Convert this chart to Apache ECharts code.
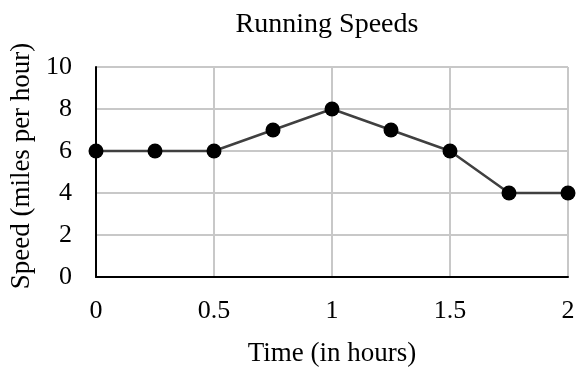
<!DOCTYPE html>
<html>
<head>
<meta charset="utf-8">
<script src="https://cdn.jsdelivr.net/npm/echarts@6/dist/echarts.min.js"></script>
<style>
  html, body { margin: 0; padding: 0; background: #fff; }
  #chart { width: 577px; height: 371px; }
</style>
</head>
<body>
<div id="chart"></div>
<script>
// Running speed samples, every quarter hour
const timeHours = [0, 0.25, 0.5, 0.75, 1, 1.25, 1.5, 1.75, 2];
const speedMph = [6, 6, 6, 7, 8, 7, 6, 4, 4];

const chartTitle = 'Running Speeds';
const xAxisName = 'Time (in hours)';
const yAxisName = 'Speed (miles per hour)';

const serif = '"Liberation Serif", "Times New Roman", serif';
const points = timeHours.map((t, i) => [t, speedMph[i]]);

const chart = echarts.init(document.getElementById('chart'), null, { renderer: 'canvas' });
chart.setOption({
  animation: false,
  backgroundColor: '#ffffff',
  textStyle: { fontFamily: serif },
  title: {
    text: chartTitle,
    left: 322,
    top: 6,
    textAlign: 'center',
    textStyle: { fontFamily: serif, fontSize: 28, fontWeight: 'normal', color: '#000' }
  },
  grid: {
    left: 96, right: 9, top: 67, bottom: 94,
    containLabel: false,
    outerBoundsMode: 'none'
  },
  xAxis: {
    type: 'value',
    min: 0,
    max: 2,
    interval: 0.5,
    name: xAxisName,
    nameLocation: 'middle',
    nameGap: 63,
    nameTextStyle: { fontFamily: serif, fontSize: 27, color: '#000' },
    axisLine: { show: true, lineStyle: { color: '#000', width: 2 } },
    axisTick: { show: false },
    axisLabel: { fontFamily: serif, fontSize: 26, color: '#000', margin: 21 },
    splitLine: { show: true, lineStyle: { color: '#c8c8c8', width: 2 } }
  },
  yAxis: {
    type: 'value',
    min: 0,
    max: 10,
    interval: 2,
    name: yAxisName,
    nameLocation: 'middle',
    nameGap: 57,
    nameTextStyle: { fontFamily: serif, fontSize: 27, color: '#000', padding: [0, 0, 0, 12] },
    axisLine: { show: true, lineStyle: { color: '#000', width: 2 } },
    axisTick: { show: false },
    axisLabel: { fontFamily: serif, fontSize: 26, color: '#000', margin: 24 },
    splitLine: { show: true, lineStyle: { color: '#c8c8c8', width: 2 } }
  },
  series: [{
    type: 'line',
    data: points,
    symbol: 'circle',
    symbolSize: 15,
    itemStyle: { color: '#000' },
    lineStyle: { color: '#404040', width: 2.5 },
    z: 5
  }]
});
</script>
</body>
</html>
